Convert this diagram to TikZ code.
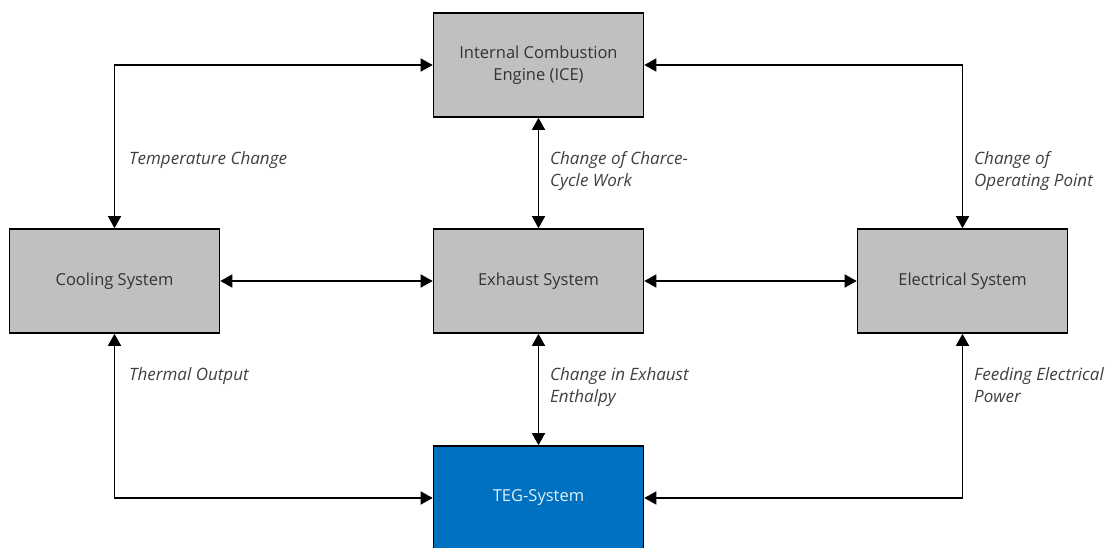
\documentclass[tikz,border=0pt]{standalone}
\usepackage{fontspec}
\setmainfont{Open Sans}
\usetikzlibrary{arrows.meta}
\definecolor{boxgray}{HTML}{C0C0C0}
\definecolor{tegblue}{HTML}{0070C0}
\definecolor{txt}{HTML}{333333}
\definecolor{lbl}{HTML}{404040}
\begin{document}
\begin{tikzpicture}[x=1pt,y=1pt,
  sysbox/.style={draw=black, line width=1.6pt, fill=boxgray, minimum width=210pt, minimum height=104pt, inner sep=0pt, align=center, text=txt, font=\fontsize{16.5}{22}\selectfont},
  conn/.style={line width=1.5pt, {Triangle[length=12pt,width=13pt]}-{Triangle[length=12pt,width=13pt]}},
  lab/.style={anchor=north west, inner sep=0pt, align=left, text=lbl, font=\fontsize{17}{22}\selectfont\itshape}]
\useasboundingbox[fill=white] (0,0) rectangle (1113,547);
\node[sysbox] (ice) at (538.5,482) {\raisebox{-2pt}{\parbox{200pt}{\centering Internal Combustion\\Engine (ICE)}}};
\node[sysbox] (cool) at (114.5,266) {Cooling System};
\node[sysbox] (exh) at (538.5,266) {Exhaust System};
\node[sysbox] (elec) at (962.5,266) {Electrical System};
\node[sysbox, fill=tegblue, text=white!88!tegblue] (teg) at (538.5,49) {TEG-System};
\draw[conn] (cool.north) |- (ice.west);
\draw[conn] (elec.north) |- (ice.east);
\draw[conn] (ice.south) -- (exh.north);
\draw[conn] (cool.east) -- (exh.west);
\draw[conn] (exh.east) -- (elec.west);
\draw[conn] (exh.south) -- (teg.north);
\draw[conn] (cool.south) |- (teg.west);
\draw[conn] (elec.south) |- (teg.east);
\node[lab] (l1) at (129,396) {Temperature Change};
\node[lab] (l2) at (550,396) {Change of Charce-\\Cycle Work};
\node[lab] (l3) at (974,396) {Change of\\Operating Point};
\node[lab] (l4) at (129,180) {Thermal Output};
\node[lab] (l5) at (550,180) {Change in Exhaust\\Enthalpy};
\node[lab] (l6) at (974,180) {Feeding Electrical\\Power};
\end{tikzpicture}
\end{document}
